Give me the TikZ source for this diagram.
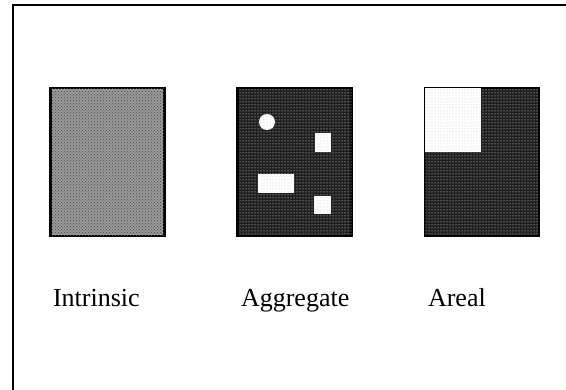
\documentclass[tikz,border=0pt]{standalone}
\usepackage{fontspec}
\setmainfont{Liberation Serif}
\usetikzlibrary{positioning,patterns}

\begin{document}
\begin{tikzpicture}[x=1pt, y=-1pt,
  panel/.style={draw=black, line width=2.2pt, minimum width=114pt, minimum height=148pt, inner sep=0pt},
  lighttone/.style={fill=black!40, postaction={pattern=crosshatch dots, pattern color=black!70}},
  darktone/.style={fill=black!88, postaction={pattern=dots, pattern color=white}},
  hole/.style={fill=white, postaction={pattern=dots, pattern color=gray!45}},
  caption/.style={anchor=base west, font=\fontsize{26}{30}\selectfont}]
\useasboundingbox (0,0) rectangle (566,390);

% Frame
\draw[line width=1.5pt] (566,5) -- (13,5) -- (13,390);

% Panels
\node[panel, lighttone] (intrinsic) at (107.5,162) {};
\node[panel, darktone] (aggregate) at (294.5,162) {};
\node[panel, darktone] (areal) at (482,162) {};

% Aggregate holes
\path[hole] (267,122) circle (8);
\path[hole] (315,133) rectangle (331,152);
\path[hole] (258,174) rectangle (294,193);
\path[hole] (314,196) rectangle (331,214);

% Areal patch
\path[hole] ([shift={(1.5,1.5)}]areal.north west) rectangle (481,152);

% Captions
\node[caption] (intrlbl) at (49.5,307) {Intrinsic};
\node[caption] (aggrlbl) at (237.5,307) {Aggregate};
\node[caption] (areallbl) at (424.5,307) {Areal};
\end{tikzpicture}
\end{document}
